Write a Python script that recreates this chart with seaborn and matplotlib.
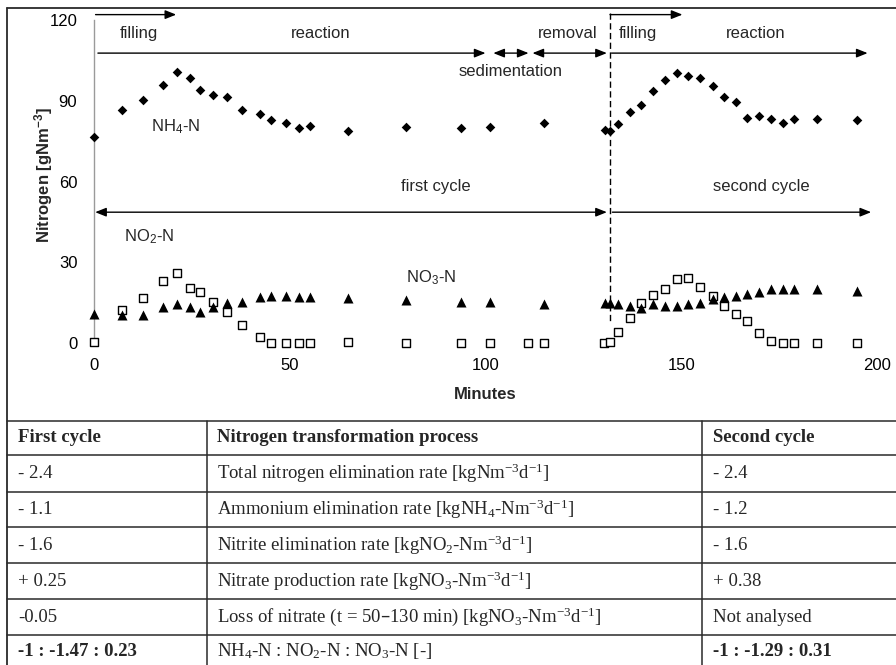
import matplotlib
matplotlib.use("Agg")
import matplotlib.pyplot as plt
import seaborn as sns
import pandas as pd
from matplotlib.lines import Line2D

# ---------------- data ----------------
nh4_t = [0, 7.2, 12.4, 17.6, 21.3, 24.5, 27.2, 30.4, 33.9, 37.9,
         42.4, 45.3, 49.1, 52.3, 55.2, 64.9, 79.8, 93.8, 101.1, 114.9,
         130.4, 131.8, 133.8, 136.9, 139.7, 142.8, 145.9, 148.8, 151.7, 154.7,
         158.1, 161.0, 163.9, 166.8, 169.9, 172.9, 175.9, 178.7, 184.8, 194.9]
nh4_v = [76.7, 86.4, 90.3, 95.9, 100.7, 98.6, 94.0, 92.2, 91.3, 86.4,
         85.2, 83.0, 81.8, 79.8, 80.7, 78.6, 80.1, 79.8, 80.2, 81.9,
         79.2, 78.8, 81.3, 85.8, 88.4, 93.6, 97.7, 100.2, 99.1, 98.6,
         95.4, 91.3, 89.5, 83.6, 84.5, 83.4, 81.8, 83.2, 83.3, 82.9]

no2_t = [0, 7.2, 12.4, 17.6, 21.3, 24.5, 27.2, 30.4, 33.9, 37.9,
         42.4, 45.3, 49.1, 52.3, 55.2, 64.9, 79.8, 93.8, 101.1, 110.9,
         114.9, 130.3, 131.8, 133.8, 136.9, 139.7, 142.8, 145.9, 148.8, 151.7,
         154.7, 158.1, 161.0, 163.9, 166.8, 169.9, 172.9, 175.9, 178.7, 184.8,
         194.9]
no2_v = [0.4, 12.3, 16.9, 23.2, 26.1, 20.6, 19.1, 15.4, 11.4, 6.7,
         2.4, 0, 0, 0, 0, 0.3, 0, 0, 0, 0,
         0, 0, 0.4, 4.2, 9.4, 14.8, 17.8, 20.1, 23.7, 24.0,
         20.9, 17.5, 13.8, 10.7, 8.3, 3.6, 0.7, 0, 0, 0,
         0]

no3_t = nh4_t
no3_v = [10.8, 10.4, 10.4, 13.3, 14.5, 13.3, 11.6, 13.5, 15.0, 15.4,
         17.0, 17.6, 17.6, 17.0, 17.0, 16.6, 16.0, 15.4, 15.4, 14.5,
         15.0, 15.0, 14.4, 13.8, 12.9, 14.4, 13.9, 13.9, 14.5, 15.0,
         16.4, 17.0, 17.6, 18.2, 19.1, 20.1, 20.1, 20.1, 20.1, 19.4]

x_ticks = [0, 50, 100, 150, 200]
y_ticks = [0, 30, 60, 90, 120]

col_first = ["First cycle", "- 2.4", "- 1.1", "- 1.6", "+ 0.25", "-0.05", "-1 : -1.47 : 0.23"]
col_process = ["Nitrogen transformation process",
               r"Total nitrogen elimination rate [kgNm$\mathregular{^{-3}}$d$\mathregular{^{-1}}$]",
               r"Ammonium elimination rate [kgNH$\mathregular{_4}$-Nm$\mathregular{^{-3}}$d$\mathregular{^{-1}}$]",
               r"Nitrite elimination rate [kgNO$\mathregular{_2}$-Nm$\mathregular{^{-3}}$d$\mathregular{^{-1}}$]",
               r"Nitrate production rate [kgNO$\mathregular{_3}$-Nm$\mathregular{^{-3}}$d$\mathregular{^{-1}}$]",
               r"Loss of nitrate (t = 50–130 min) [kgNO$\mathregular{_3}$-Nm$\mathregular{^{-3}}$d$\mathregular{^{-1}}$]",
               r"NH$\mathregular{_4}$-N : NO$\mathregular{_2}$-N : NO$\mathregular{_3}$-N [-]"]
col_second = ["Second cycle", "- 2.4", "- 1.2", "- 1.6", "+ 0.38", "Not analysed", "-1 : -1.29 : 0.31"]

# ---------------- style ----------------
sns.set_theme(style="white")
plt.rcParams['font.family'] = ['Liberation Sans', 'DejaVu Sans']

W, H = 896, 665
fig = plt.figure(figsize=(W / 100, H / 100), dpi=100)
ax = fig.add_axes([94 / W, 1 - 343 / H, 783 / W, 323 / H])

nh4 = pd.DataFrame({"t": nh4_t, "v": nh4_v})
no2 = pd.DataFrame({"t": no2_t, "v": no2_v})
no3 = pd.DataFrame({"t": no3_t, "v": no3_v})

sns.scatterplot(data=no2, x="t", y="v", marker="s", s=30, facecolor="white",
                edgecolor="black", linewidth=1.0, ax=ax, clip_on=False, zorder=3)
sns.scatterplot(data=no3, x="t", y="v", marker="^", s=52, color="black",
                edgecolor="black", linewidth=0, ax=ax, clip_on=False, zorder=4)
sns.scatterplot(data=nh4, x="t", y="v", marker="D", s=24, color="black",
                edgecolor="black", linewidth=0, ax=ax, clip_on=False, zorder=4)

ax.set_xlim(0, 200)
ax.set_ylim(0, 120)
ax.set_xticks(x_ticks)
ax.set_yticks(y_ticks)
ax.tick_params(axis='both', length=0, labelsize=12, colors='black')
ax.tick_params(axis='y', pad=12)
ax.tick_params(axis='x', pad=11)
for s in ['top', 'right', 'bottom']:
    ax.spines[s].set_visible(False)
ax.spines['left'].set_color('#9a9a9a')
ax.spines['left'].set_linewidth(1.0)
ax.set_xlabel("Minutes", fontsize=12, fontweight='bold', labelpad=10)
ax.set_ylabel(r"Nitrogen [gNm$\mathregular{^{-3}}$]", fontsize=12, fontweight='bold')
ax.yaxis.set_label_coords(-0.05, 0.52)


def arrow(x0, x1, y, style):
    if style == '-|>':
        st = '-|>,head_length=0.55,head_width=0.22'
    else:
        st = '<|-|>,head_length=0.55,head_width=0.22'
    ax.annotate('', xy=(x1, y), xytext=(x0, y),
                arrowprops=dict(arrowstyle=st, color='black', lw=1.0,
                                shrinkA=0, shrinkB=0, mutation_scale=12),
                annotation_clip=False, zorder=5)


arrow(0.4, 21.0, 122.0, '-|>')
arrow(1.0, 100.0, 107.7, '-|>')
arrow(102.0, 111.0, 107.7, '<|-|>')
arrow(112.0, 131.0, 107.7, '<|-|>')
arrow(132.2, 197.6, 107.7, '-|>')
arrow(131.8, 150.3, 122.0, '-|>')
arrow(0.3, 131.0, 48.6, '<|-|>')
arrow(132.4, 198.5, 48.6, '-|>')

ax.plot([131.8, 131.8], [122.6, 7.5], color='black', lw=1.0,
        linestyle=(0, (4.5, 2.5)), clip_on=False, zorder=2)

fs = 12
ax.text(11.5, 115, "filling", ha='center', va='center', fontsize=fs)
ax.text(57.8, 115, "reaction", ha='center', va='center', fontsize=fs)
ax.text(120.9, 115, "removal", ha='center', va='center', fontsize=fs)
ax.text(139.0, 115, "filling", ha='center', va='center', fontsize=fs)
ax.text(169.0, 115, "reaction", ha='center', va='center', fontsize=fs)
ax.text(106.4, 100.9, "sedimentation", ha='center', va='center', fontsize=fs)
ax.text(20.9, 80.4, r"NH$\mathregular{_4}$-N", ha='center', va='center', fontsize=fs)
ax.text(87.2, 58.0, "first cycle", ha='center', va='center', fontsize=fs)
ax.text(170.5, 58.0, "second cycle", ha='center', va='center', fontsize=fs)
ax.text(14.0, 39.5, r"NO$\mathregular{_2}$-N", ha='center', va='center', fontsize=fs)
ax.text(86.0, 24.2, r"NO$\mathregular{_3}$-N", ha='center', va='center', fontsize=fs)

# ---------------- table & frame ----------------
tax = fig.add_axes([0, 0, 1, 1], zorder=-1)
tax.set_xlim(0, W)
tax.set_ylim(H, 0)
tax.axis('off')

frame_col = '#2a2a2a'
tax.add_line(Line2D([7, W], [8, 8], color=frame_col, lw=1.3))
tax.add_line(Line2D([7, 7], [8, H], color=frame_col, lw=1.3))

row_edges = [420.7, 455, 491.7, 527.2, 563, 599, 635, H + 30]
for yv in row_edges[:-1]:
    tax.add_line(Line2D([7, W], [yv, yv], color=frame_col, lw=1.1))
for xv in [207, 701.7]:
    tax.add_line(Line2D([xv, xv], [row_edges[0], H], color=frame_col, lw=1.1))

serif = ['Liberation Serif', 'DejaVu Serif']
tfs = 13.5
centers = [(row_edges[i] + min(row_edges[i + 1], 665)) / 2 for i in range(len(row_edges) - 1)]
centers[-1] = 651
n = len(col_first)
for i in range(n):
    bold_side = (i == 0 or i == n - 1)
    tax.text(18, centers[i], col_first[i], ha='left', va='center', fontsize=tfs,
             family=serif, fontweight='bold' if bold_side else 'normal')
    tax.text(217, centers[i], col_process[i], ha='left', va='center', fontsize=tfs,
             family=serif, fontweight='bold' if i == 0 else 'normal')
    tax.text(713, centers[i], col_second[i], ha='left', va='center', fontsize=tfs,
             family=serif, fontweight='bold' if bold_side else 'normal')

fig.savefig("out.png", dpi=100)
